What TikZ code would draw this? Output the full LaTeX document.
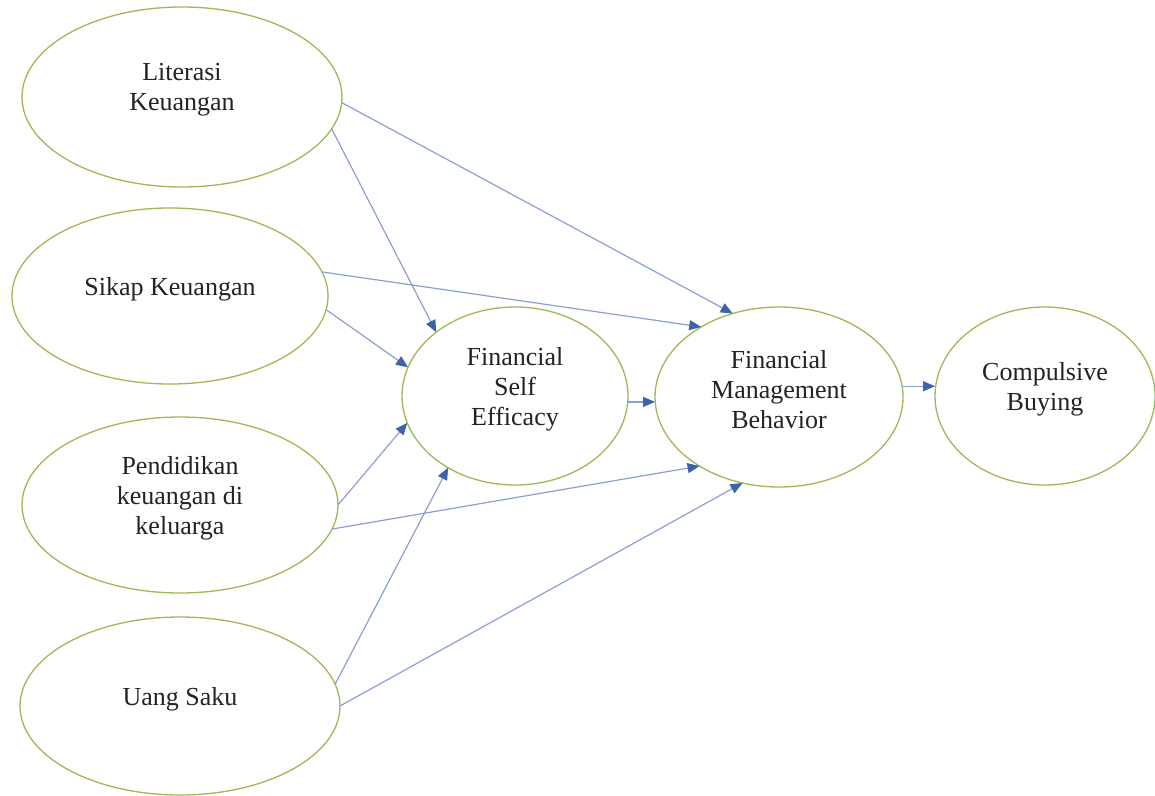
\documentclass[tikz,border=0pt]{standalone}
\usepackage{fontspec}
\setmainfont{Liberation Serif}
\usetikzlibrary{arrows.meta,shapes.geometric}
\definecolor{ellgreen}{RGB}{155,187,89}
\definecolor{linkblue}{RGB}{140,160,212}
\definecolor{tipblue}{RGB}{60,98,170}
\definecolor{txt}{RGB}{35,35,35}
\tikzset{
  var/.style={draw=ellgreen, line width=1.3pt, ellipse, inner sep=0pt, outer sep=0pt},
  vtext/.style={align=center, text=txt, font=\fontsize{26}{30}\selectfont, yshift=7pt, inner sep=0pt},
  link/.style={draw=linkblue, line width=1.2pt,
    -{Triangle[length=12pt,width=10pt,color=tipblue]}}
}
\begin{document}
\begin{tikzpicture}[x=1pt,y=-1pt]
\useasboundingbox[fill=white] (0,0) rectangle (1155,795);
\node[var, minimum width=320pt, minimum height=180pt, label={[vtext]center:Literasi\\Keuangan}] (lit) at (182,97) {};
\node[var, minimum width=316pt, minimum height=176pt, label={[vtext]center:Sikap Keuangan}] (sik) at (170,296) {};
\node[var, minimum width=316pt, minimum height=176pt, label={[vtext]center:Pendidikan\\keuangan di\\keluarga}] (pen) at (180,505) {};
\node[var, minimum width=320pt, minimum height=178pt, label={[vtext]center:Uang Saku}] (uang) at (180,706) {};
\node[var, minimum width=226pt, minimum height=178pt, label={[vtext]center:Financial\\Self\\Efficacy}] (fse) at (515,396) {};
\node[var, minimum width=248pt, minimum height=180pt, label={[vtext]center:Financial\\Management\\Behavior}] (fmb) at (779,397) {};
\node[var, minimum width=220pt, minimum height=178pt, label={[vtext]center:Compulsive\\Buying}] (cb) at (1045,396) {};

\draw[link] (lit.-12) -- (fse.141);
\draw[link] (lit.-2) -- (fmb.119);
\draw[link] (sik.9) -- (fmb.138);
\draw[link] (sik.-5) -- (fse.165);
\draw[link] (pen.0) -- (fse.194);
\draw[link] (pen.-9) -- (fmb.221);
\draw[link] (uang.8) -- (fse.227);
\draw[link] (uang.0) -- (fmb.247);
\draw[link] (fse.-3) -- (fse.-3 -| fmb.west);
\draw[link] (fmb.5) -- (fmb.5 -| cb.west);
\end{tikzpicture}
\end{document}
